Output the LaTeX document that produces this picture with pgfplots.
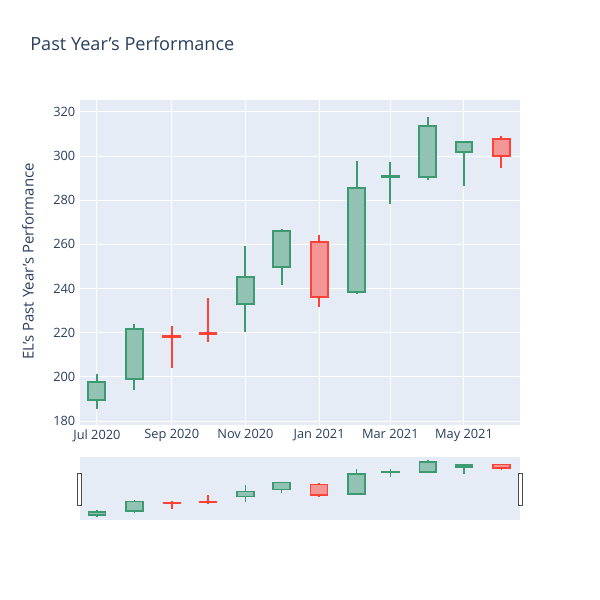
\documentclass[border=0pt]{standalone}
\usepackage{pgfplots}
\pgfplotsset{compat=1.18}
\usepgfplotslibrary{statistics}
\usepackage{fontspec}
\setmainfont{Open Sans}

\definecolor{bg}{HTML}{E5ECF6}
\definecolor{txt}{HTML}{2A3F5F}
\definecolor{incr}{HTML}{3D9970}
\definecolor{incrfill}{HTML}{91C2B3}
\definecolor{decr}{HTML}{FF4136}
\definecolor{decrfill}{HTML}{F29696}

% candle: x (days since 1 Jul 2020), low, body bottom, body top, high
\newcommand{\up}[5]{\addplot[draw=incr, fill=incrfill, boxplot prepared={draw position=#1,
  lower whisker=#2, lower quartile=#3, median=#4, upper quartile=#4, upper whisker=#5}] coordinates {};}
\newcommand{\dn}[5]{\addplot[draw=decr, fill=decrfill, boxplot prepared={draw position=#1,
  lower whisker=#2, lower quartile=#3, median=#4, upper quartile=#4, upper whisker=#5}] coordinates {};}

% monthly OHLC
\newcommand{\candles}{%
  \up{0}{185.3}{189.5}{197.5}{201.2}
  \up{31}{194.0}{199.0}{221.5}{224.0}
  \dn{62}{204.2}{218.2}{218.7}{223.0}
  \dn{92}{215.7}{219.3}{219.7}{235.6}
  \up{123}{220.2}{233.0}{245.2}{259.4}
  \up{153}{241.5}{249.8}{266.1}{266.9}
  \dn{184}{231.8}{236.3}{261.0}{264.3}
  \up{215}{237.5}{238.3}{285.6}{297.9}
  \up{243}{278.2}{290.5}{290.9}{297.5}
  \up{274}{289.0}{290.4}{313.5}{317.9}
  \up{304}{286.5}{302.0}{306.3}{307.0}
  \dn{335}{294.5}{300.0}{307.9}{309.1}
}

\pgfplotsset{
  candlebase/.style={
    scale only axis, anchor=south west, width=330pt,
    xmin=-14, xmax=350.4, ymin=178.2, ymax=325.4,
    axis background/.style={fill=bg},
    axis line style={draw=none},
    major tick length=0pt,
    boxplot/draw direction=y,
    boxplot/box extend=14, boxplot/whisker extend=0,
    every axis plot/.append style={line width=1.5pt},
  },
}

\begin{document}
\begin{tikzpicture}
\path[fill=white, use as bounding box] (0,0) rectangle (450pt,450pt);

\node[anchor=west, inner sep=0pt, text=txt, font=\fontsize{13.6}{16}\selectfont] at (22.5pt,417pt) {Past Year's Performance};
\node[rotate=90, inner sep=0pt, text=txt, font=\fontsize{11.2}{13}\selectfont] at (21pt,254pt) {EL's Past Year's Performance};

\begin{axis}[candlebase,
    at={(60pt,131.25pt)}, height=243.75pt,
    grid=major, grid style={white, line width=0.75pt},
    xtick={0,62,123,184,243,304},
    xticklabels={Jul 2020, Sep 2020, Nov 2020, Jan 2021, Mar 2021, May 2021},
    ytick={180,200,...,320},
    tick label style={font=\fontsize{9.6}{11}\selectfont, text=txt},
    /pgf/number format/assume math mode=true,
    /pgf/number format/1000 sep={},
]
\candles
\end{axis}

% range slider
\begin{axis}[candlebase, name=slider,
    at={(60pt,60pt)}, height=47.25pt,
    xtick=\empty, ytick=\empty,
    every axis plot/.append style={line width=1.2pt},
]
\candles
\end{axis}
\draw[draw=black!70, fill=white, line width=0.6pt] ([xshift=-2pt, yshift=11.25pt]slider.south west) rectangle ++(3.3pt,24pt);
\draw[draw=black!70, fill=white, line width=0.6pt] ([xshift=-1.3pt, yshift=11.25pt]slider.south east) rectangle ++(3.3pt,24pt);
\end{tikzpicture}
\end{document}
